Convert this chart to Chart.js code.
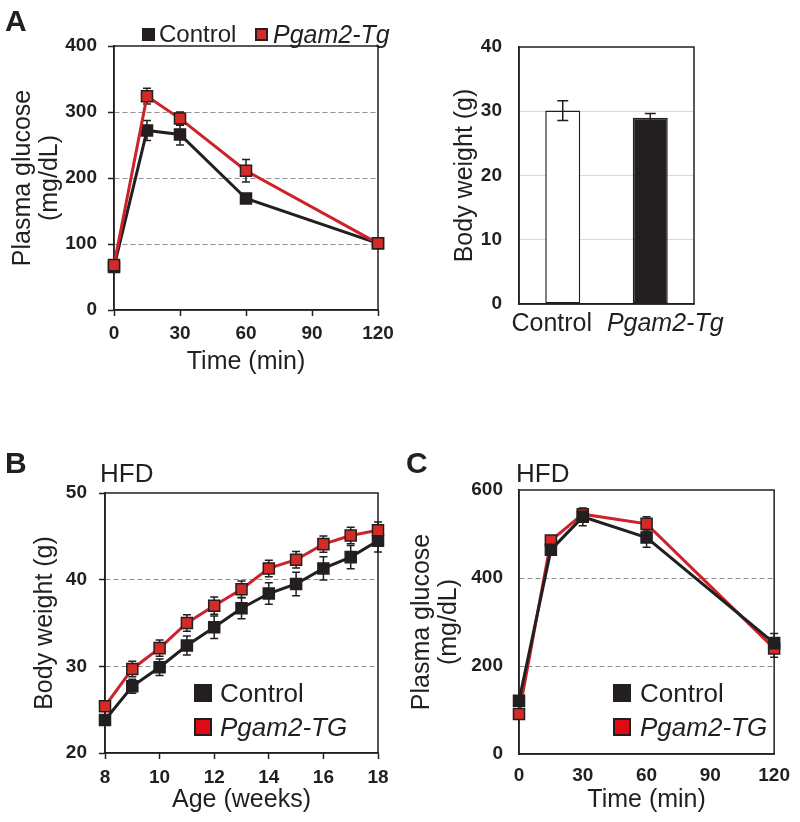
<!DOCTYPE html>
<html>
<head>
<meta charset="utf-8">
<script src="https://cdn.jsdelivr.net/npm/chart.js@4.4.1/dist/chart.umd.min.js"></script>
<style>
  html, body { margin: 0; padding: 0; background: #fff; }
  body { width: 800px; height: 822px; position: relative; overflow: hidden;
         font-family: "Liberation Sans", Arial, sans-serif; color: #231f20; }
  canvas { position: absolute; }
  .t { position: absolute; white-space: nowrap; color: #231f20; }
  .sq { position: absolute; box-sizing: border-box; }
</style>
</head>
<body>
<canvas id="cA1" width="400" height="390" style="left:0;top:0"></canvas>
<canvas id="cA2" width="400" height="390" style="left:400px;top:0"></canvas>
<canvas id="cB" width="400" height="422" style="left:0;top:400px"></canvas>
<canvas id="cC" width="400" height="422" style="left:400px;top:400px"></canvas>

<!-- panel letters and headings -->
<div class="t" style="left:5px;top:4px;font-size:30px;font-weight:bold;line-height:34px">A</div>
<div class="t" style="left:5px;top:446px;font-size:30px;font-weight:bold;line-height:34px">B</div>
<div class="t" style="left:406px;top:446px;font-size:30px;font-weight:bold;line-height:34px">C</div>
<div class="t" style="left:100px;top:458px;font-size:26px;line-height:30px">HFD</div>
<div class="t" style="left:516px;top:458px;font-size:26px;line-height:30px">HFD</div>

<!-- legend A -->
<div class="sq" style="left:142px;top:28px;width:13px;height:13px;background:#231f20"></div>
<div class="t" style="left:159px;top:19px;font-size:24px;line-height:30px">Control</div>
<div class="sq" style="left:255px;top:28px;width:13px;height:13px;background:#d52b27;border:2px solid #2a1d1d"></div>
<div class="t" style="left:273px;top:19px;font-size:25px;line-height:30px;font-style:italic">Pgam2-Tg</div>

<!-- legend B -->
<div class="sq" style="left:194px;top:684px;width:18px;height:18px;background:#231f20"></div>
<div class="t" style="left:220px;top:678px;font-size:26px;line-height:30px">Control</div>
<div class="sq" style="left:194px;top:718px;width:18px;height:18px;background:#e00a16;border:2px solid #231f20"></div>
<div class="t" style="left:220px;top:712px;font-size:26px;line-height:30px;font-style:italic">Pgam2-TG</div>

<!-- legend C -->
<div class="sq" style="left:613px;top:684px;width:18px;height:18px;background:#231f20"></div>
<div class="t" style="left:640px;top:678px;font-size:26px;line-height:30px">Control</div>
<div class="sq" style="left:613px;top:718px;width:18px;height:18px;background:#e00a16;border:2px solid #231f20"></div>
<div class="t" style="left:640px;top:712px;font-size:26px;line-height:30px;font-style:italic">Pgam2-TG</div>

<script>
// ---------------- DATA ----------------
// Panel A (left): glucose tolerance, normal diet
const timeA = [0, 15, 30, 60, 120];
const glucoseCtrlA = [65, 272, 266, 169, 101];
const glucoseCtrlAErr = [4, 15, 16, 5, 3];
const glucoseTgA = [68, 324, 290, 211, 101];
const glucoseTgAErr = [4, 12, 10, 17, 3];
const ticksTimeA = [0, 30, 60, 90, 120];
const ticksGlucoseA = [0, 100, 200, 300, 400];

// Panel A (right): body weight
const groupsA2 = ['Control', 'Pgam2-Tg'];
const bodyWeightA2 = [30.1, 29.0];
const bodyWeightA2Err = [1.55, 0.65];
const ticksWeightA2 = [0, 10, 20, 30, 40];

// Panel B: body weight on HFD
const ageB = [8, 9, 10, 11, 12, 13, 14, 15, 16, 17, 18];
const weightCtrlB = [23.8, 27.7, 29.9, 32.4, 34.5, 36.7, 38.4, 39.5, 41.3, 42.6, 44.5];
const weightCtrlBErr = [0.6, 0.8, 0.95, 1.1, 1.3, 1.2, 1.25, 1.35, 1.35, 1.35, 1.3];
const weightTgB = [25.4, 29.7, 32.1, 35.0, 37.0, 38.9, 41.3, 42.3, 44.1, 45.1, 45.7];
const weightTgBErr = [0.5, 0.9, 0.95, 0.95, 1.0, 0.95, 0.95, 0.95, 0.95, 0.95, 0.95];
const ticksAgeB = [8, 10, 12, 14, 16, 18];
const ticksWeightB = [20, 30, 40, 50];

// Panel C: glucose tolerance on HFD
const timeC = [0, 15, 30, 60, 120];
const glucoseCtrlC = [121, 464, 539, 492, 252];
const glucoseCtrlCErr = [6, 8, 20, 22, 22];
const glucoseTgC = [91, 485, 545, 523, 240];
const glucoseTgCErr = [5, 6, 12, 16, 20];
const ticksTimeC = [0, 30, 60, 90, 120];
const ticksGlucoseC = [0, 200, 400, 600];

// ---------------- STYLE ----------------
const FONT = '"Liberation Sans", Arial, sans-serif';
const INK = '#231f20';
const RED_LINE = '#cc2229';
const RED_FILL = '#d52b27';
Chart.defaults.font.family = FONT;
Chart.defaults.color = INK;

const framePlugin = {
  id: 'frame',
  beforeDatasetsDraw(chart, args, opts) {
    const { ctx, chartArea: a } = chart;
    ctx.save();
    ctx.strokeStyle = opts.color || INK;
    ctx.lineWidth = opts.width || 1.5;
    ctx.strokeRect(a.left, a.top, a.right - a.left, a.bottom - a.top);
    ctx.restore();
  }
};

function drawErrorBars(chart, opts) {
  const ctx = chart.ctx;
  const ys = chart.scales.y;
  chart.data.datasets.forEach((ds, i) => {
    if (!ds.errors) return;
    const meta = chart.getDatasetMeta(i);
    meta.data.forEach((el, j) => {
      const raw = ds.data[j];
      const v = (typeof raw === 'object') ? raw.y : raw;
      const e = ds.errors[j];
      const x = el.x;
      const y1 = ys.getPixelForValue(v + e);
      const y2 = ys.getPixelForValue(v - e);
      const c = (opts.cap || 8) / 2;
      ctx.save();
      ctx.strokeStyle = opts.color || INK;
      ctx.lineWidth = opts.width || 1.5;
      ctx.beginPath();
      ctx.moveTo(x, y1); ctx.lineTo(x, y2);
      ctx.moveTo(x - c, y1); ctx.lineTo(x + c, y1);
      ctx.moveTo(x - c, y2); ctx.lineTo(x + c, y2);
      ctx.stroke();
      ctx.restore();
    });
  });
}
const errorBarPlugin = {
  id: 'errbars',
  beforeDatasetsDraw(chart, args, opts) { if (opts.layer !== 'after') drawErrorBars(chart, opts); },
  afterDatasetsDraw(chart, args, opts) { if (opts.layer === 'after') drawErrorBars(chart, opts); }
};

function xy(xs, ys) { return xs.map((x, i) => ({ x: x, y: ys[i] })); }
function edgeTransparent(color, min, max) {
  return (c) => (c.tick && (c.tick.value === min || c.tick.value === max)) ? 'rgba(0,0,0,0)' : color;
}
function fixedTicks(values) {
  return (scale) => { scale.ticks = values.map(v => ({ value: v })); };
}

function lineDataset(label, data, errors, fill, lineColor, order) {
  return {
    label, data, errors, order,
    borderColor: lineColor, borderWidth: 3,
    pointStyle: 'rect', pointRadius: 7.8, pointHoverRadius: 7.8,
    pointBackgroundColor: fill, pointBorderColor: INK, pointBorderWidth: 1.5,
    fill: false, tension: 0, clip: false
  };
}

function lineChart(id, cfg) {
  return new Chart(document.getElementById(id), {
    type: 'line',
    data: { datasets: cfg.datasets },
    options: {
      responsive: false, animation: false, devicePixelRatio: 1,
      layout: { padding: cfg.padding },
      plugins: {
        legend: { display: false }, tooltip: { enabled: false },
        frame: { color: INK, width: 1.5 },
        errbars: { layer: 'before', cap: cfg.cap || 8, width: 1.5, color: INK }
      },
      scales: {
        x: {
          type: 'linear', min: cfg.xMin, max: cfg.xMax,
          afterBuildTicks: fixedTicks(cfg.xTicks),
          afterFit: (s) => { s.height = cfg.xH; },
          grid: { drawOnChartArea: false, drawTicks: cfg.xTickLen > 0, tickLength: cfg.xTickLen,
                  tickColor: INK, tickWidth: 1.5 },
          border: { display: true, color: INK, width: 1.5 },
          ticks: { padding: cfg.xPad, color: INK, font: { size: 19, weight: 'bold' }, maxRotation: 0 },
          title: { display: true, text: cfg.xTitle, color: INK,
                   font: { size: 25, lineHeight: 1.1 }, padding: { top: 0, bottom: cfg.xTitlePad } }
        },
        y: {
          type: 'linear', min: cfg.yMin, max: cfg.yMax,
          afterBuildTicks: fixedTicks(cfg.yTicks),
          afterFit: (s) => { s.width = cfg.yW; },
          grid: { color: edgeTransparent('#8f8f8f', cfg.yMin, cfg.yMax), lineWidth: 1,
                  drawTicks: cfg.yTickLen > 0, tickLength: cfg.yTickLen, tickColor: INK, tickWidth: 1.5,
                  tickBorderDash: [] },
          border: { display: true, color: INK, width: 1.5, dash: [5, 3] },
          ticks: { padding: cfg.yPad, color: INK, font: { size: 19, weight: 'bold' } },
          title: { display: true, text: cfg.yTitle, color: INK,
                   font: { size: 25, lineHeight: 1.1 }, padding: { top: cfg.yTitlePad, bottom: 0 } }
        }
      }
    },
    plugins: [framePlugin, errorBarPlugin]
  });
}

// ---- Panel A left ----
lineChart('cA1', {
  datasets: [
    lineDataset('Control', xy(timeA, glucoseCtrlA), glucoseCtrlAErr, INK, INK, 1),
    lineDataset('Pgam2-Tg', xy(timeA, glucoseTgA), glucoseTgAErr, RED_FILL, RED_LINE, 0)
  ],
  padding: { left: 0, right: 22, top: 46, bottom: 0 },
  xMin: 0, xMax: 120, xTicks: ticksTimeA, xH: 80, xTickLen: 6, xPad: 6,
  xTitle: 'Time (min)', xTitlePad: 14,
  yMin: 0, yMax: 400, yTicks: ticksGlucoseA, yW: 114, yTickLen: 6, yPad: 11,
  yTitle: ['Plasma glucose', '(mg/dL)'], yTitlePad: 9
});

// ---- Panel B ----
lineChart('cB', {
  datasets: [
    lineDataset('Control', xy(ageB, weightCtrlB), weightCtrlBErr, INK, INK, 1),
    lineDataset('Pgam2-TG', xy(ageB, weightTgB), weightTgBErr, RED_FILL, RED_LINE, 0)
  ],
  padding: { left: 0, right: 22, top: 93, bottom: 0 },
  xMin: 8, xMax: 18, xTicks: ticksAgeB, xH: 69, xTickLen: 6, xPad: 7,
  xTitle: 'Age (weeks)', xTitlePad: 8,
  yMin: 20, yMax: 50, yTicks: ticksWeightB, yW: 105, yTickLen: 6, yPad: 12,
  yTitle: 'Body weight (g)', yTitlePad: 31
});

// ---- Panel C ----
lineChart('cC', {
  datasets: [
    lineDataset('Control', xy(timeC, glucoseCtrlC), glucoseCtrlCErr, INK, INK, 0),
    lineDataset('Pgam2-TG', xy(timeC, glucoseTgC), glucoseTgCErr, RED_FILL, RED_LINE, 1)
  ],
  padding: { left: 0, right: 17, top: 90, bottom: 0 },
  xMin: 0, xMax: 120, xTicks: ticksTimeC, xH: 68, xTickLen: 0, xPad: 10,
  xTitle: 'Time (min)', xTitlePad: 8,
  yMin: 0, yMax: 600, yTicks: ticksGlucoseC, yW: 119, yTickLen: 0, yPad: 16,
  yTitle: ['Plasma glucose', '(mg/dL)'], yTitlePad: 8
});

// ---- Panel A right (bars) ----
const barChart = new Chart(document.getElementById('cA2'), {
  type: 'bar',
  data: {
    labels: groupsA2,
    datasets: [{
      label: 'Body weight',
      data: bodyWeightA2,
      errors: bodyWeightA2Err,
      backgroundColor: ['#ffffff', INK],
      borderColor: INK, borderWidth: 1.5, borderSkipped: false,
      categoryPercentage: 1, barPercentage: 0.4
    }]
  },
  options: {
    responsive: false, animation: false, devicePixelRatio: 1,
    layout: { padding: { left: 0, right: 106, top: 47, bottom: 0 } },
    plugins: {
      legend: { display: false }, tooltip: { enabled: false },
      frame: { color: INK, width: 1.5 },
      errbars: { layer: 'after', cap: 11, width: 1.5, color: INK }
    },
    scales: {
      x: {
        afterFit: (s) => { s.height = 86; },
        grid: { display: false },
        border: { display: true, color: INK, width: 1.5 },
        ticks: { display: false }
      },
      y: {
        min: 0, max: 40,
        afterBuildTicks: fixedTicks(ticksWeightA2),
        afterFit: (s) => { s.width = 119; },
        grid: { color: edgeTransparent('#d9d9d9', 0, 40), lineWidth: 1, drawTicks: false },
        border: { display: true, color: INK, width: 1.5 },
        ticks: { padding: 17, color: INK, font: { size: 19, weight: 'bold' } },
        title: { display: true, text: 'Body weight (g)', color: INK,
                 font: { size: 25, lineHeight: 1.1 }, padding: { top: 51, bottom: 0 } }
      }
    }
  },
  plugins: [framePlugin, errorBarPlugin]
});

// Category labels for the bar panel, placed under each bar via the library's x scale
(function () {
  const xs = barChart.scales.x;
  const shift = [-11, 15];       // the original labels sit slightly spread apart
  groupsA2.forEach((name, i) => {
    const d = document.createElement('div');
    d.className = 't';
    d.textContent = name;
    d.style.fontSize = '25px';
    d.style.lineHeight = '30px';
    d.style.fontStyle = i === 1 ? 'italic' : 'normal';
    d.style.top = (barChart.chartArea.bottom + 3) + 'px';
    d.style.left = (400 + xs.getPixelForValue(i) + shift[i]) + 'px';
    d.style.transform = 'translateX(-50%)';
    document.body.appendChild(d);
  });
})();
</script>
</body>
</html>
